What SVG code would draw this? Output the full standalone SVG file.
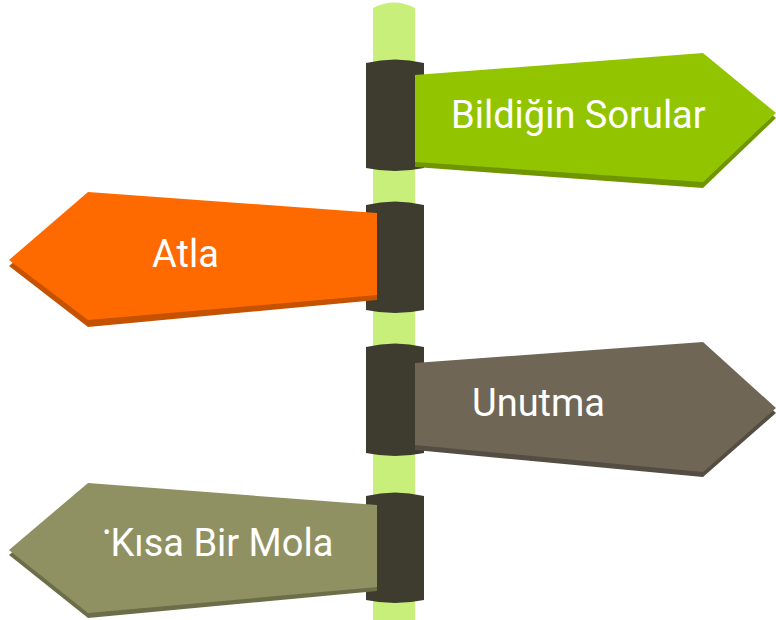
<svg xmlns="http://www.w3.org/2000/svg" width="776" height="620" viewBox="0 0 776 620">
<style>
.clamp{fill:#3e3c2f}
.lbl{font-family:Roboto,"Liberation Sans",sans-serif;font-size:38px;fill:#ffffff}
</style>
<rect width="776" height="620" fill="#ffffff"/>
<g id="pole">
<path d="M373,8 Q394,-3 415,8 V620 H373 Z" fill="#c9ef7b"/>
</g>
<g id="connectors"></g>
<g id="clamps">
<path class="clamp" d="M366,63 Q395,56 424,63 V168 Q395,174 366,168 Z"/>
<path class="clamp" d="M366,205 Q395,198 424,205 V310 Q395,316 366,310 Z"/>
<path class="clamp" d="M366,347 Q395,340 424,347 V453 Q395,459 366,453 Z"/>
<path class="clamp" d="M366,496 Q395,489 424,496 V600 Q395,606 366,600 Z"/>
</g>
<g id="sign-bildigin">
<polygon points="415,80 703,58 776,118 703,188 415,167" fill="#6f9600"/>
<polygon points="415,75 703,53 776,113 703,182 415,162" fill="#92c500"/>
<text class="lbl" x="451" y="128">Bildiğin Sorular</text>
</g>
<g id="sign-atla">
<polygon points="377,219 88,198 9,266 88,327 377,300" fill="#c55200"/>
<polygon points="377,213 88,192 9,260 88,320 377,295" fill="#ff6a00"/>
<text class="lbl" x="152" y="267">Atla</text>
</g>
<g id="sign-unutma">
<polygon points="415,368 703,347 776,413 703,477 415,450" fill="#544d42"/>
<polygon points="415,363 703,342 776,408 703,472 415,445" fill="#706656"/>
<text class="lbl" x="472" y="416">Unutma</text>
</g>
<g id="sign-mola">
<polygon points="377,510 88,488 9,555 88,618 377,591" fill="#6c6e4a"/>
<polygon points="377,505 88,483 9,550 88,613 377,587" fill="#8f9163"/>
<text class="lbl" x="103" y="556"><tspan font-size="22" dy="-16">•</tspan><tspan dy="16">Kısa Bir Mola</tspan></text>
</g>
</svg>
